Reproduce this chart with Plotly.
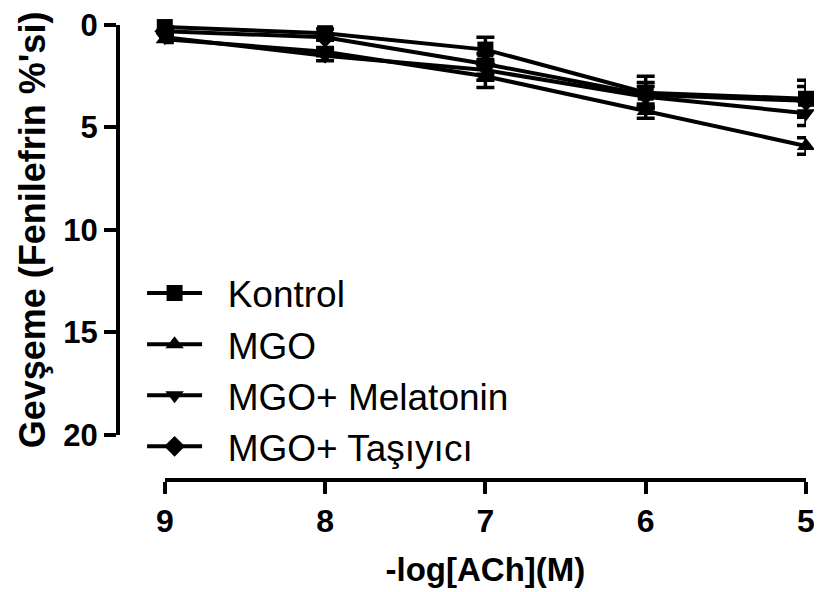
import plotly.graph_objects as go

x_vals = [9, 8, 7, 6, 5]
tick_labels = ["9", "8", "7", "6", "5"]

kontrol = [0.1, 0.4, 1.2, 3.3, 3.6]
kontrol_err = [0.15, 0.2, 0.6, 0.8, 0.9]
mgo = [0.7, 1.3, 2.5, 4.2, 5.9]
mgo_err = [0.15, 0.2, 0.55, 0.35, 0.4]
melatonin = [0.6, 1.5, 2.2, 3.5, 4.3]
melatonin_err = [0.15, 0.25, 0.5, 0.5, 0.6]
tasiyici = [0.3, 0.6, 1.9, 3.4, 3.7]
tasiyici_err = [0.1, 0.15, 0.5, 0.6, 0.7]

series = [
    ("Kontrol", kontrol, kontrol_err, "square"),
    ("MGO", mgo, mgo_err, "triangle-up"),
    ("MGO+ Melatonin", melatonin, melatonin_err, "triangle-down"),
    ("MGO+ Taşıyıcı", tasiyici, tasiyici_err, "diamond"),
]

FONT = "Liberation Sans, Arial, sans-serif"
PAD = "\u00a0\u00a0"

fig = go.Figure()
for i, (name, vals, err, sym) in enumerate(series):
    fig.add_trace(go.Scatter(
        x=x_vals, y=vals, name=PAD + name, mode="lines+markers",
        legendgroup=f"g{i}",
        line=dict(color="black", width=4),
        marker=dict(symbol=sym, size=16, color="black"),
        error_y=dict(type="data", array=err, visible=True, color="black",
                     thickness=3.5, width=9),
        cliponaxis=False,
    ))

# page body has an 8px margin, so the figure is 8px smaller and shifted
fig.update_layout(
    width=814, height=584,
    margin=dict(l=110, r=16, t=17, b=112),
    paper_bgcolor="white", plot_bgcolor="white",
    font=dict(family=FONT, color="black"),
    showlegend=True,
    legend=dict(x=0.035, y=0.478, xanchor="left", yanchor="top",
                font=dict(size=37, family=FONT),
                itemwidth=55, tracegroupgap=0, bgcolor="rgba(0,0,0,0)"),
    xaxis=dict(
        range=[9, 5], domain=[0.068, 1], anchor="free", position=0,
        automargin=False, ticklabeloverflow="allow",
        tickvals=x_vals, ticktext=tick_labels,
        showline=True, linewidth=4, linecolor="black",
        ticks="outside", ticklen=12, tickwidth=4, tickcolor="black",
        showgrid=False, zeroline=False,
        tickfont=dict(size=32, family=FONT, weight="bold"),
        title=dict(text="-log[ACh](M)", standoff=18,
                   font=dict(size=33, family=FONT, weight="bold")),
    ),
    yaxis=dict(
        range=[20, 0], domain=[0.099, 1], anchor="free", position=0,
        automargin=False, ticklabeloverflow="allow",
        tickvals=[0, 5, 10, 15, 20],
        showline=True, linewidth=4, linecolor="black",
        ticks="outside", ticklen=12, tickwidth=4, tickcolor="black",
        showgrid=False, zeroline=False,
        tickfont=dict(size=31, family=FONT, weight="bold"),
        title=dict(text="Gevşeme (Fenilefrin %'si)", standoff=6,
                   font=dict(size=36, family=FONT, weight="bold")),
    ),
)

fig.write_html("out.html")
